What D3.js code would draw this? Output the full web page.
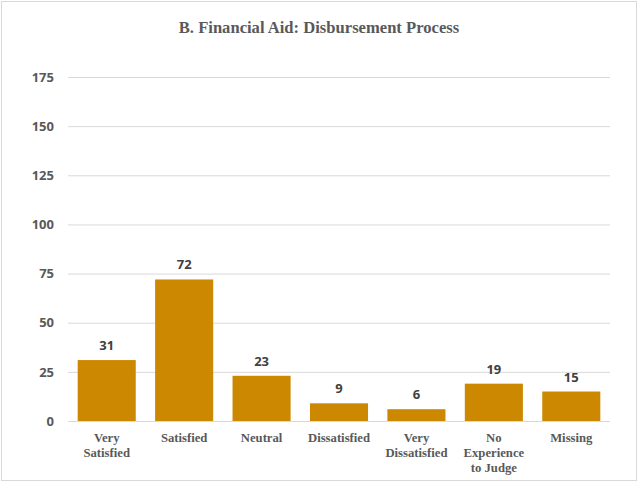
<!DOCTYPE html>
<html><head><meta charset="utf-8">
<script src="https://cdn.jsdelivr.net/npm/d3@7"></script>
<style>body{margin:0;background:#fff}</style>
</head><body><svg id="c" width="638" height="482"></svg>
<script>
const categories = [["Very","Satisfied"],["Satisfied"],["Neutral"],["Dissatisfied"],["Very","Dissatisfied"],["No","Experience","to Judge"],["Missing"]];
const values = [31,72,23,9,6,19,15];
const yTicks = [0,25,50,75,100,125,150,175];
const title = "B. Financial Aid: Disbursement Process";

(function(){
const svg = d3.select("#c");
svg.append("rect").attr("x",1.5).attr("y",1.5).attr("width",635).attr("height",479)
  .attr("fill","#fff").attr("stroke","#d9d9d9").attr("stroke-width",1);
svg.append("text").attr("x",319).attr("y",33).attr("text-anchor","middle")
  .attr("font-family","Liberation Serif, Times New Roman, serif").attr("font-weight","bold")
  .attr("font-size","16.6px").attr("fill","#595959").text(title);

const pL=68,pR=610,pT=77,pB=421;
const x = d3.scaleBand().domain(d3.range(values.length)).range([pL,pR]).paddingInner(0.25).paddingOuter(0.125);
const y = d3.scaleLinear().domain([0,175]).range([pB,pT]);

const g = svg.append("g");
g.selectAll("line.grid").data(yTicks).join("line")
  .attr("x1",pL).attr("x2",pR).attr("y1",d=>y(d)+0.5).attr("y2",d=>y(d)+0.5)
  .attr("stroke","#d9d9d9").attr("stroke-width",1);
const ya = svg.append("g").attr("transform",`translate(${pL-14},0)`)
  .call(d3.axisLeft(y).tickValues(yTicks).tickSize(0).tickPadding(0));
ya.select(".domain").remove();
ya.selectAll("text").attr("font-family","Open Sans, Liberation Sans, sans-serif").attr("font-weight","bold")
  .attr("font-size","13px").attr("fill","#595959");

g.selectAll("rect.bar").data(values).join("rect")
  .attr("x",(d,i)=>x(i)).attr("width",x.bandwidth())
  .attr("y",d=>y(d)).attr("height",d=>y(0)-y(d)).attr("fill","#CC8800");
g.selectAll("text.lab").data(values).join("text")
  .attr("x",(d,i)=>x(i)+x.bandwidth()/2).attr("y",d=>y(d)-10)
  .attr("text-anchor","middle").attr("font-family","Open Sans, Liberation Sans, sans-serif")
  .attr("font-weight","bold").attr("font-size","13px").attr("fill","#404040").text(d=>d);

const xa = svg.append("g").attr("transform",`translate(0,${pB})`)
  .call(d3.axisBottom(x).tickSize(0).tickFormat(""));
xa.select(".domain").remove();
xa.selectAll(".tick").each(function(i){
  const t = d3.select(this).append("text").attr("y",21).attr("text-anchor","middle")
    .attr("font-family","Liberation Serif, Times New Roman, serif").attr("font-weight","bold")
    .attr("font-size","12.7px").attr("fill","#595959");
  categories[i].forEach((s,k)=>t.append("tspan").attr("x",0).attr("dy",k?15:0).text(s));
});
})();
</script></body></html>
